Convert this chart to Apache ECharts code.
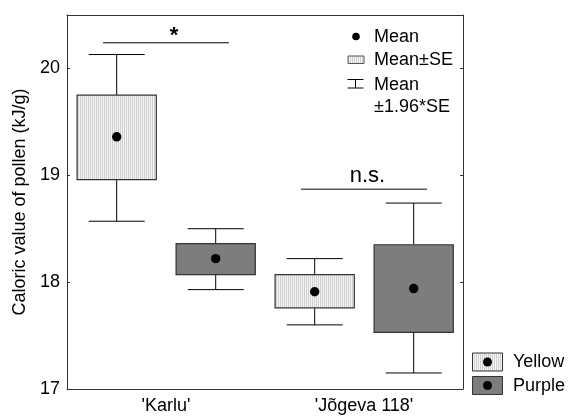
<!DOCTYPE html>
<html>
<head>
<meta charset="utf-8">
<script src="https://cdn.jsdelivr.net/npm/echarts@6/dist/echarts.min.js"></script>
<style>html,body{margin:0;padding:0;background:#fff}#c{width:568px;height:417px}</style>
</head>
<body>
<div id="c"></div>
<script>
// ---- data ----
const categories = ["'Karlu'", "'Jõgeva 118'"];
const yellowMean = [19.36, 17.91];
const yellowSeLow = [18.96, 17.76];
const yellowSeHigh = [19.75, 18.07];
const yellowCiLow = [18.57, 17.60];
const yellowCiHigh = [20.13, 18.22];
const purpleMean = [18.22, 17.94];
const purpleSeLow = [18.07, 17.53];
const purpleSeHigh = [18.36, 18.35];
const purpleCiLow = [17.93, 17.15];
const purpleCiHigh = [18.50, 18.74];
const sigLabels = ['*', 'n.s.'];
const sigLevels = [20.24, 18.87];
const yTicks = [17, 18, 19, 20];

const FONT = '"Liberation Sans", Arial, sans-serif';

// dotted pattern for yellow
const pc = document.createElement('canvas');
pc.width = 2; pc.height = 2;
const pctx = pc.getContext('2d');
pctx.fillStyle = '#f6f6f6'; pctx.fillRect(0,0,2,2);
pctx.fillStyle = '#cfcfcf'; pctx.fillRect(0,0,1,2);
const yellowFill = {image: pc, repeat: 'repeat'};
const purpleFill = '#7d7d7d';

function seriesData(mean, sl, sh, cl, ch) {
  return categories.map((c, i) => [i, sl[i], sh[i], cl[i], ch[i], mean[i]]);
}

function makeRender(offsetFrac, fill) {
  return function (params, api) {
    const cat = api.value(0);
    const band = api.size([1, 0])[0];
    const cx = api.coord([cat, api.value(5)])[0] + offsetFrac * band;
    const bw = 0.40 * band, cw = 0.283 * band;
    const y = v => api.coord([cat, v])[1];
    const ySL = y(api.value(1)), ySH = y(api.value(2));
    const yCL = y(api.value(3)), yCH = y(api.value(4)), yM = y(api.value(5));
    const ls = {stroke: '#000', lineWidth: 1};
    return {
      type: 'group',
      children: [
        {type: 'line', shape: {x1: cx, y1: yCH, x2: cx, y2: ySH}, style: ls},
        {type: 'line', shape: {x1: cx, y1: ySL, x2: cx, y2: yCL}, style: ls},
        {type: 'line', shape: {x1: cx - cw/2, y1: yCH, x2: cx + cw/2, y2: yCH}, style: ls},
        {type: 'line', shape: {x1: cx - cw/2, y1: yCL, x2: cx + cw/2, y2: yCL}, style: ls},
        {type: 'rect', shape: {x: cx - bw/2, y: ySH, width: bw, height: ySL - ySH},
          style: {fill: fill, stroke: '#333', lineWidth: 1.2}},
        {type: 'circle', shape: {cx: cx, cy: yM, r: 4.7}, style: {fill: '#000'}}
      ]
    };
  };
}

function renderSig(params, api) {
  const cat = api.value(0);
  const band = api.size([1, 0])[0];
  const p = api.coord([cat, api.value(1)]);
  const half = 0.318 * band;
  const lbl = sigLabels[params.dataIndex];
  const star = lbl === '*';
  return {
    type: 'group',
    children: [
      {type: 'line', shape: {x1: p[0] - half, y1: p[1], x2: p[0] + half, y2: p[1]},
        style: {stroke: '#000', lineWidth: 1}},
      {type: 'text', x: p[0] + (star ? 8 : 3.5), y: p[1] + (star ? 4 : -2),
        style: {text: lbl, fill: '#000', font: (star ? 'bold 22px ' : '22px ') + FONT,
          align: 'center', verticalAlign: 'bottom'}}
    ]
  };
}

const chart = echarts.init(document.getElementById('c'), null, {renderer: 'canvas'});
const axisLineStyle = {color: '#333', width: 1};
chart.setOption({
  animation: false,
  backgroundColor: '#fff',
  grid: {left: 67, top: 15, right: 105, bottom: 28},
  xAxis: [
    {type: 'category', data: categories, position: 'bottom',
      axisLine: {lineStyle: axisLineStyle},
      axisTick: {inside: true, length: 3, alignWithLabel: true, lineStyle: axisLineStyle},
      axisLabel: {color: '#000', fontSize: 18, fontFamily: FONT, margin: 8},
      splitLine: {show: false}},
    {type: 'category', data: categories, position: 'top',
      axisLine: {lineStyle: axisLineStyle},
      axisTick: {inside: true, length: 3, alignWithLabel: true, lineStyle: axisLineStyle},
      axisLabel: {show: false}, splitLine: {show: false}}
  ],
  yAxis: [
    {type: 'value', min: 17, max: 20.5, interval: 1, position: 'left',
      name: 'Caloric value of pollen (kJ/g)', nameLocation: 'middle', nameRotate: 90, nameGap: 38,
      nameTextStyle: {color: '#000', fontSize: 18, fontFamily: FONT},
      axisLine: {show: true, lineStyle: axisLineStyle},
      axisTick: {show: true, inside: true, length: 3, lineStyle: axisLineStyle},
      axisLabel: {color: '#000', fontSize: 18, fontFamily: FONT, margin: 7, showMaxLabel: false,
        formatter: v => (yTicks.indexOf(v) >= 0 ? String(v) : '')},
      splitLine: {show: false}},
    {type: 'value', min: 17, max: 20.5, interval: 1, position: 'right',
      axisLine: {show: true, lineStyle: axisLineStyle},
      axisTick: {show: true, inside: true, length: 3, lineStyle: axisLineStyle},
      axisLabel: {show: false}, splitLine: {show: false}}
  ],
  series: [
    {name: 'Yellow', type: 'custom', renderItem: makeRender(-0.249, yellowFill),
      encode: {x: 0, y: [1, 2, 3, 4, 5]},
      data: seriesData(yellowMean, yellowSeLow, yellowSeHigh, yellowCiLow, yellowCiHigh)},
    {name: 'Purple', type: 'custom', renderItem: makeRender(0.251, purpleFill),
      encode: {x: 0, y: [1, 2, 3, 4, 5]},
      data: seriesData(purpleMean, purpleSeLow, purpleSeHigh, purpleCiLow, purpleCiHigh)},
    {name: 'sig', type: 'custom', renderItem: renderSig, encode: {x: 0, y: 1},
      data: categories.map((c, i) => [i, sigLevels[i]])}
  ],
  graphic: [
    // top legend
    {type: 'circle', shape: {cx: 356, cy: 36.5, r: 3.8}, style: {fill: '#000'}},
    {type: 'text', x: 374, y: 37.5, style: {text: 'Mean', font: '18px ' + FONT, fill: '#000', verticalAlign: 'middle'}},
    {type: 'rect', shape: {x: 348, y: 56, width: 16, height: 7.5}, style: {fill: yellowFill, stroke: '#555', lineWidth: 1}},
    {type: 'text', x: 374, y: 60.5, style: {text: 'Mean±SE', font: '18px ' + FONT, fill: '#000', verticalAlign: 'middle'}},
    {type: 'line', shape: {x1: 347.5, y1: 79.5, x2: 363.5, y2: 79.5}, style: {stroke: '#000', lineWidth: 1}},
    {type: 'line', shape: {x1: 347.5, y1: 88, x2: 363.5, y2: 88}, style: {stroke: '#000', lineWidth: 1}},
    {type: 'line', shape: {x1: 355.5, y1: 79.5, x2: 355.5, y2: 88}, style: {stroke: '#000', lineWidth: 1}},
    {type: 'text', x: 374, y: 85, style: {text: 'Mean', font: '18px ' + FONT, fill: '#000', verticalAlign: 'middle'}},
    {type: 'text', x: 374, y: 107.5, style: {text: '±1.96*SE', font: '18px ' + FONT, fill: '#000', verticalAlign: 'middle'}},
    // bottom legend
    {type: 'rect', shape: {x: 472.5, y: 353, width: 30, height: 18}, style: {fill: yellowFill, stroke: '#333', lineWidth: 1}},
    {type: 'circle', shape: {cx: 487.5, cy: 362, r: 4.5}, style: {fill: '#000'}},
    {type: 'text', x: 513, y: 362.5, style: {text: 'Yellow', font: '18px ' + FONT, fill: '#000', verticalAlign: 'middle'}},
    {type: 'rect', shape: {x: 472.5, y: 376.5, width: 30, height: 18}, style: {fill: purpleFill, stroke: '#333', lineWidth: 1}},
    {type: 'circle', shape: {cx: 487.5, cy: 385.5, r: 4.5}, style: {fill: '#000'}},
    {type: 'text', x: 513, y: 386, style: {text: 'Purple', font: '18px ' + FONT, fill: '#000', verticalAlign: 'middle'}}
  ]
});
</script>
</body>
</html>
